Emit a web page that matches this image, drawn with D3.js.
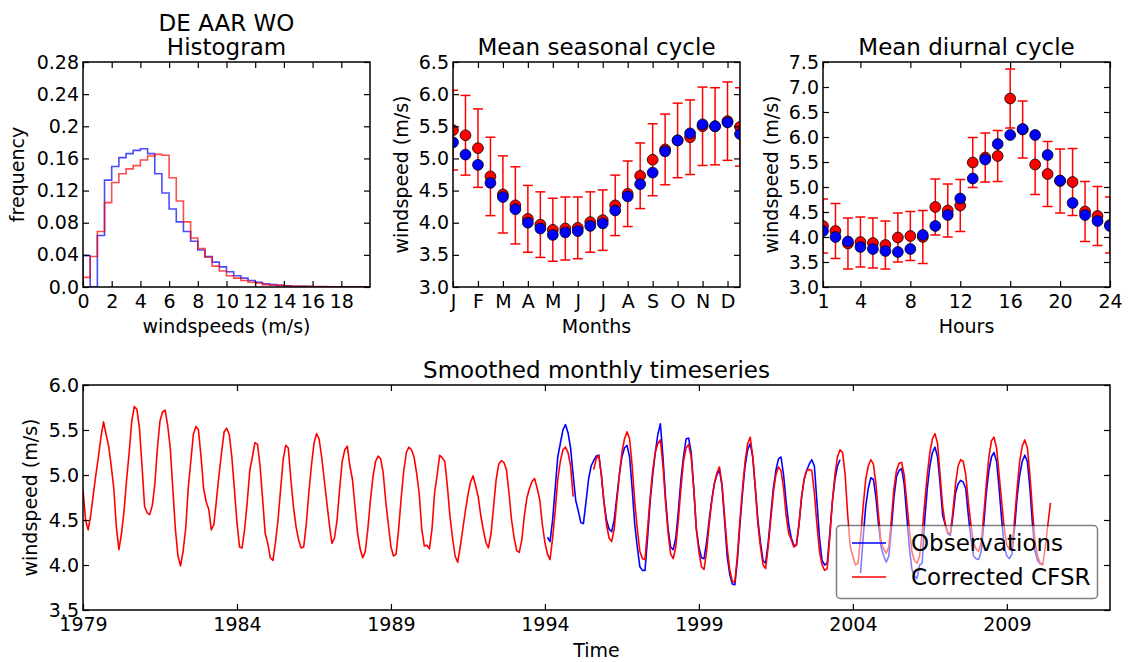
<!DOCTYPE html>
<html>
<head>
<meta charset="utf-8">
<script src="https://cdn.jsdelivr.net/npm/d3@7"></script>
<style>
body { margin: 0; background: #fff; }
text { font-family: "DejaVu Sans", sans-serif; fill: #000; }
</style>
</head>
<body>
<svg id="fig" width="1129" height="662"></svg>
<script>
// ---- histogram (bins of 0.5 m/s from 0 to 20) ----
var histBinWidth = 0.5;
var histObs = [0.039, 0, 0.064, 0.133, 0.150, 0.161, 0.166, 0.170, 0.172, 0.166,
               0.141, 0.117, 0.097, 0.081, 0.069, 0.057, 0.046, 0.038, 0.031, 0.025,
               0.019, 0.014, 0.011, 0.008, 0.006, 0.004, 0.003, 0.002, 0.0015, 0.001,
               0.0008, 0.0005, 0.0004, 0.0003, 0.0002, 0.0002, 0.0001, 0.0001, 0.0001, 0];
var histCfsr = [0.012, 0.038, 0.069, 0.105, 0.130, 0.141, 0.147, 0.151, 0.158, 0.163,
                0.165, 0.164, 0.136, 0.107, 0.081, 0.061, 0.048, 0.037, 0.026, 0.020,
                0.014, 0.011, 0.008, 0.006, 0.005, 0.003, 0.0025, 0.002, 0.0015, 0.001,
                0.001, 0.0008, 0.0006, 0.0005, 0.0004, 0.0003, 0.0002, 0.0002, 0.0001, 0.0001];
var histXTicks = [0, 2, 4, 6, 8, 10, 12, 14, 16, 18];
var histYTicks = [0, 0.04, 0.08, 0.12, 0.16, 0.2, 0.24, 0.28];
var histYLabels = ["0.0", "0.04", "0.08", "0.12", "0.16", "0.2", "0.24", "0.28"];

// ---- mean seasonal cycle (two values per month) ----
var monthLabels = ["J", "F", "M", "A", "M", "J", "J", "A", "S", "O", "N", "D"];
var seasCfsr = [5.44, 5.36, 5.16, 4.72, 4.44, 4.27, 4.06, 3.97, 3.89, 3.91, 3.92, 4.01,
                4.04, 4.27, 4.45, 4.73, 4.98, 5.14, 5.28, 5.33, 5.50, 5.50, 5.58, 5.49];
var seasObs  = [5.25, 5.06, 4.90, 4.62, 4.40, 4.21, 4.00, 3.91, 3.81, 3.85, 3.87, 3.95,
                3.99, 4.19, 4.41, 4.60, 4.78, 5.11, 5.28, 5.39, 5.53, 5.50, 5.56, 5.38];
var seasErr  = [0.62, 0.62, 0.61, 0.61, 0.60, 0.60, 0.52, 0.51, 0.49, 0.49, 0.48, 0.47,
                0.47, 0.47, 0.51, 0.51, 0.56, 0.55, 0.58, 0.58, 0.61, 0.60, 0.61, 0.61];

// ---- mean diurnal cycle (hours 1..24) ----
var hourTicks = [1, 4, 8, 12, 16, 20, 24];
var diurCfsr = [4.22, 4.12, 3.87, 3.90, 3.88, 3.84, 3.99, 4.02, 4.00, 4.60, 4.53, 4.63,
                5.49, 5.59, 5.62, 6.77, 6.15, 5.45, 5.26, 5.12, 5.10, 4.51, 4.42, 4.24];
var diurObs  = [4.12, 4.00, 3.91, 3.80, 3.76, 3.72, 3.70, 3.76, 4.04, 4.22, 4.44, 4.77,
                5.17, 5.55, 5.86, 6.04, 6.16, 6.04, 5.64, 5.13, 4.68, 4.44, 4.32, 4.22];
var diurErr  = [0.54, 0.55, 0.51, 0.50, 0.50, 0.48, 0.49, 0.49, 0.53, 0.56, 0.53, 0.52,
                0.50, 0.49, 0.51, 0.59, 0.57, 0.60, 0.65, 0.64, 0.67, 0.60, 0.59, 0.56];

// ---- smoothed monthly timeseries ----
var cfsrStart = 1979;
var cfsrMonthly = [
  4.84, 4.50, 4.39, 4.55, 4.78, 5.00, 5.20, 5.42, 5.59, 5.45, 5.32, 5.10,   // 1979
  4.85, 4.42, 4.17, 4.35, 4.60, 4.95, 5.25, 5.60, 5.76, 5.73, 5.52, 5.10,   // 1980
  4.65, 4.58, 4.56, 4.66, 4.90, 5.30, 5.60, 5.70, 5.72, 5.55, 5.30, 4.85,   // 1981
  4.40, 4.10, 3.99, 4.15, 4.40, 4.85, 5.15, 5.45, 5.54, 5.50, 5.20, 4.85,   // 1982
  4.70, 4.62, 4.39, 4.45, 4.72, 5.00, 5.25, 5.48, 5.52, 5.45, 5.20, 4.84,   // 1983
  4.47, 4.20, 4.19, 4.40, 4.70, 5.05, 5.20, 5.36, 5.34, 5.10, 4.73, 4.35,   // 1984
  4.24, 4.08, 4.05, 4.25, 4.50, 4.84, 5.17, 5.33, 5.30, 4.95, 4.65, 4.43,   // 1985
  4.28, 4.19, 4.20, 4.45, 4.80, 5.10, 5.35, 5.46, 5.40, 5.20, 4.95, 4.70,   // 1986
  4.45, 4.24, 4.30, 4.50, 4.84, 5.15, 5.28, 5.32, 5.10, 4.95, 4.65, 4.35,   // 1987
  4.18, 4.08, 4.15, 4.40, 4.72, 4.98, 5.15, 5.21, 5.18, 5.02, 4.70, 4.45,   // 1988
  4.20, 4.10, 4.12, 4.40, 4.75, 5.05, 5.25, 5.31, 5.28, 5.20, 5.02, 4.80,   // 1989
  4.40, 4.21, 4.22, 4.18, 4.40, 4.80, 5.00, 5.22, 5.19, 5.15, 4.87, 4.54,   // 1990
  4.30, 4.10, 4.03, 4.20, 4.40, 4.60, 4.78, 4.92, 4.99, 4.88, 4.76, 4.55,   // 1991
  4.39, 4.25, 4.19, 4.35, 4.65, 4.95, 5.12, 5.16, 5.14, 5.06, 4.80, 4.50,   // 1992
  4.30, 4.16, 4.14, 4.28, 4.55, 4.75, 4.85, 4.93, 4.96, 4.85, 4.72, 4.45,   // 1993
  4.25, 4.12, 4.06, 4.30, 4.60, 4.95, 5.15, 5.28, 5.31, 5.25, 5.10, 4.76,   // 1994
  null, null, null, null, null, null, null, 5.06, 5.18, 5.22, 5.00, 4.70,   // 1995
  4.45, 4.30, 4.26, 4.40, 4.70, 5.00, 5.25, 5.40, 5.48, 5.40, 5.10, 4.70,   // 1996
  4.40, 4.15, 4.07, 4.06, 4.40, 4.75, 5.05, 5.25, 5.35, 5.39, 5.10, 4.70,   // 1997
  4.35, 4.12, 4.07, 4.20, 4.50, 4.85, 5.15, 5.30, 5.34, 5.20, 4.85, 4.40,   // 1998
  4.15, 3.98, 3.95, 4.15, 4.45, 4.70, 4.90, 5.02, 5.09, 4.90, 4.55, 4.20,   // 1999
  3.95, 3.82, 3.81, 4.10, 4.50, 4.85, 5.15, 5.35, 5.42, 5.20, 4.85, 4.45,   // 2000
  4.20, 4.00, 3.96, 4.20, 4.50, 4.80, 5.00, 5.09, 5.05, 4.85, 4.55, 4.35,   // 2001
  4.28, 4.20, 4.22, 4.45, 4.75, 4.95, 5.05, 5.06, 5.05, 4.80, 4.45, 4.15,   // 2002
  4.00, 3.94, 3.96, 4.30, 4.70, 5.00, 5.20, 5.28, 5.25, 5.00, 4.55, 4.20,   // 2003
  4.10, 4.00, 4.02, 4.30, 4.65, 4.95, 5.10, 5.17, 5.12, 4.90, 4.55, 4.25,   // 2004
  4.18, 4.13, 4.20, 4.50, 4.85, 5.05, 5.13, 5.14, 5.00, 4.70, 4.40, 4.15,   // 2005
  4.05, 4.02, 4.10, 4.35, 4.70, 5.00, 5.25, 5.40, 5.46, 5.35, 5.00, 4.65,   // 2006
  4.45, 4.36, 4.35, 4.60, 4.90, 5.10, 5.17, 5.15, 5.00, 4.70, 4.45, 4.25,   // 2007
  4.18, 4.15, 4.25, 4.55, 4.90, 5.20, 5.38, 5.42, 5.30, 5.00, 4.70, 4.40,   // 2008
  4.22, 4.17, 4.20, 4.50, 4.85, 5.15, 5.32, 5.39, 5.30, 5.00, 4.60, 4.25,   // 2009
  4.10, 4.02, 4.00, 4.20, 4.45, 4.69                                        // 2010
];
var obsStart = 1994;
var obsMonthly = [
  null, 4.31, 4.26, 4.50, 4.85, 5.20, 5.35, 5.50, 5.56, 5.47, 5.30, 5.00,   // 1994
  4.72, 4.60, 4.47, 4.46, 4.70, 4.95, 5.10, 5.16, 5.21, 5.22, 5.00, 4.70,   // 1995
  4.50, 4.40, 4.37, 4.50, 4.75, 5.00, 5.20, 5.30, 5.33, 5.20, 4.85, 4.45,   // 1996
  4.20, 3.98, 3.94, 3.94, 4.30, 4.70, 5.00, 5.25, 5.45, 5.57, 5.20, 4.75,   // 1997
  4.40, 4.20, 4.17, 4.30, 4.60, 4.95, 5.20, 5.40, 5.41, 5.25, 4.85, 4.40,   // 1998
  4.20, 4.08, 4.07, 4.25, 4.50, 4.72, 4.90, 5.00, 5.06, 4.88, 4.50, 4.10,   // 1999
  3.90, 3.79, 3.78, 4.05, 4.45, 4.80, 5.10, 5.28, 5.35, 5.20, 4.85, 4.50,   // 2000
  4.25, 4.05, 4.02, 4.25, 4.55, 4.85, 5.05, 5.18, 5.20, 5.00, 4.70, 4.45,   // 2001
  4.30, 4.22, 4.22, 4.45, 4.75, 4.95, 5.05, 5.12, 5.17, 5.10, 4.70, 4.30,   // 2002
  4.05, 4.00, 4.02, 4.35, 4.70, 4.95, 5.10, 5.17, null, null, null, null,   // 2003
  null, null, null, 3.91, 4.30, 4.65, 4.85, 4.97, 4.95, 4.75, 4.45, 4.20,   // 2004
  4.10, 4.03, 4.10, 4.40, 4.75, 4.98, 5.05, 5.07, 4.90, 4.55, 4.20, 3.95,   // 2005
  3.88, 3.85, 4.00, 4.02, 4.50, 4.85, 5.10, 5.25, 5.31, 5.20, 4.90, 4.55,   // 2006
  4.45, 4.35, 4.33, 4.55, 4.80, 4.90, 4.94, 4.92, 4.85, 4.55, 4.30, 4.10,   // 2007
  4.07, 4.06, 4.15, 4.45, 4.80, 5.05, 5.20, 5.25, 5.15, 4.85, 4.50, 4.20,   // 2008
  4.10, 4.07, 4.12, 4.40, 4.75, 5.00, 5.15, 5.22, 5.15, 4.85, 4.45, 4.15,   // 2009
  4.05, 4.01, 4.02                                                          // 2010
];
var yearTicks = [1979, 1984, 1989, 1994, 1999, 2004, 2009];
var tsYTicks = [3.5, 4.0, 4.5, 5.0, 5.5, 6.0];

var obsColor = "#0000ff", cfsrColor = "#ff0000";
var tickFont = 19, titleFont = 23;

var svg = d3.select("#fig");

function makeAxes(id, box, x, y, xTicks, xFmt, yTicks, yFmt) {
  var g = svg.append("g");
  svg.append("clipPath").attr("id", id).append("rect")
    .attr("x", box.x0).attr("y", box.y0)
    .attr("width", box.x1 - box.x0).attr("height", box.y1 - box.y0);
  var plot = g.append("g").attr("clip-path", "url(#" + id + ")");
  var ax = g.append("g");
  var none = function() { return ""; };
  ax.append("g").attr("transform", "translate(0," + box.y1 + ")")
    .call(d3.axisBottom(x).tickValues(xTicks).tickFormat(xFmt).tickSizeInner(-6).tickSizeOuter(0).tickPadding(8));
  ax.append("g").attr("transform", "translate(0," + box.y0 + ")")
    .call(d3.axisTop(x).tickValues(xTicks).tickFormat(none).tickSizeInner(-6).tickSizeOuter(0));
  ax.append("g").attr("transform", "translate(" + box.x0 + ",0)")
    .call(d3.axisLeft(y).tickValues(yTicks).tickFormat(yFmt).tickSizeInner(-6).tickSizeOuter(0).tickPadding(4));
  ax.append("g").attr("transform", "translate(" + box.x1 + ",0)")
    .call(d3.axisRight(y).tickValues(yTicks).tickFormat(none).tickSizeInner(-6).tickSizeOuter(0));
  ax.selectAll("g").attr("font-family", "DejaVu Sans").attr("font-size", tickFont);
  ax.selectAll(".domain").remove();
  ax.selectAll(".tick line").attr("stroke", "#000").attr("stroke-width", 1.2);
  ax.append("rect")
    .attr("x", box.x0).attr("y", box.y0)
    .attr("width", box.x1 - box.x0).attr("height", box.y1 - box.y0)
    .attr("fill", "none").attr("stroke", "#000").attr("stroke-width", 1.5);
  return { g: g, plot: plot };
}

function label(txt, x, y, size, rotate) {
  var t = svg.append("text").attr("text-anchor", "middle").attr("font-size", size).text(txt);
  if (rotate) t.attr("transform", "translate(" + x + "," + y + ") rotate(-90)");
  else t.attr("x", x).attr("y", y);
  return t;
}

// ================= histogram =================
var hb = { x0: 83, x1: 370, y0: 62, y1: 287 };
var hx = d3.scaleLinear().domain([0, 20]).range([hb.x0, hb.x1]);
var hy = d3.scaleLinear().domain([0, 0.28]).range([hb.y1, hb.y0]);
var hAx = makeAxes("clipH", hb, hx, hy, histXTicks, d3.format("d"), histYTicks,
                   function(d, i) { return histYLabels[i]; });

function stepPoints(vals) {
  var pts = [[0, 0]];
  vals.forEach(function(v, i) {
    pts.push([i * histBinWidth, v]);
    pts.push([(i + 1) * histBinWidth, v]);
  });
  pts.push([vals.length * histBinWidth, 0]);
  return pts;
}
var stepLine = d3.line().x(function(d) { return hx(d[0]); }).y(function(d) { return hy(d[1]); });
[[histObs, obsColor], [histCfsr, cfsrColor]].forEach(function(s) {
  hAx.plot.append("path").attr("d", stepLine(stepPoints(s[0])))
    .attr("fill", "none").attr("stroke", s[1]).attr("stroke-opacity", 0.7).attr("stroke-width", 1.6);
});
label("DE AAR WO", (hb.x0 + hb.x1) / 2, 31, titleFont);
label("Histogram", (hb.x0 + hb.x1) / 2, 55, titleFont);
label("windspeeds (m/s)", (hb.x0 + hb.x1) / 2, 333, tickFont);
label("frequency", 23.5, (hb.y0 + hb.y1) / 2, tickFont, true);

// ============ points with error bars ============
function errorPlot(plot, x, y, xs, cfsr, obs, err) {
  var d = xs.map(function(xv, i) { return { x: xv, c: cfsr[i], o: obs[i], e: err[i] }; });
  var eb = plot.append("g").attr("stroke", cfsrColor).attr("stroke-width", 1.5);
  eb.selectAll("line.v").data(d).enter().append("line")
    .attr("x1", function(p) { return x(p.x); }).attr("x2", function(p) { return x(p.x); })
    .attr("y1", function(p) { return y(p.c - p.e); }).attr("y2", function(p) { return y(p.c + p.e); });
  [-1, 1].forEach(function(sg) {
    eb.selectAll("line.c" + sg).data(d).enter().append("line")
      .attr("x1", function(p) { return x(p.x) - 5; }).attr("x2", function(p) { return x(p.x) + 5; })
      .attr("y1", function(p) { return y(p.c + sg * p.e); }).attr("y2", function(p) { return y(p.c + sg * p.e); });
  });
  plot.append("g").selectAll("circle").data(d).enter().append("circle")
    .attr("cx", function(p) { return x(p.x); }).attr("cy", function(p) { return y(p.c); })
    .attr("r", 5.4).attr("fill", cfsrColor).attr("stroke", "#000").attr("stroke-width", 0.8);
  plot.append("g").selectAll("circle").data(d).enter().append("circle")
    .attr("cx", function(p) { return x(p.x); }).attr("cy", function(p) { return y(p.o); })
    .attr("r", 5.4).attr("fill", obsColor).attr("stroke", "#000").attr("stroke-width", 0.8);
}

// ================= seasonal =================
var sb = { x0: 453, x1: 740, y0: 62, y1: 287 };
var sx = d3.scaleLinear().domain([0, 11.5]).range([sb.x0, sb.x1]);
var sy = d3.scaleLinear().domain([3.0, 6.5]).range([sb.y1, sb.y0]);
var sAx = makeAxes("clipS", sb, sx, sy, d3.range(12), function(d, i) { return monthLabels[i]; },
                   [3.0, 3.5, 4.0, 4.5, 5.0, 5.5, 6.0, 6.5], d3.format(".1f"));
errorPlot(sAx.plot, sx, sy, seasCfsr.map(function(v, i) { return i / 2; }), seasCfsr, seasObs, seasErr);
label("Mean seasonal cycle", (sb.x0 + sb.x1) / 2, 55, titleFont);
label("Months", (sb.x0 + sb.x1) / 2, 333, tickFont);
label("windspeed (m/s)", 407.5, (sb.y0 + sb.y1) / 2, tickFont, true);

// ================= diurnal =================
var db = { x0: 823, x1: 1110, y0: 62, y1: 287 };
var dx = d3.scaleLinear().domain([1, 24]).range([db.x0, db.x1]);
var dy = d3.scaleLinear().domain([3.0, 7.5]).range([db.y1, db.y0]);
var dAx = makeAxes("clipD", db, dx, dy, hourTicks, d3.format("d"),
                   [3.0, 3.5, 4.0, 4.5, 5.0, 5.5, 6.0, 6.5, 7.0, 7.5], d3.format(".1f"));
errorPlot(dAx.plot, dx, dy, diurCfsr.map(function(v, i) { return i + 1; }), diurCfsr, diurObs, diurErr);
label("Mean diurnal cycle", (db.x0 + db.x1) / 2, 55, titleFont);
label("Hours", (db.x0 + db.x1) / 2, 333, tickFont);
label("windspeed (m/s)", 777.5, (db.y0 + db.y1) / 2, tickFont, true);

// ================= timeseries =================
var tb = { x0: 83, x1: 1110, y0: 385, y1: 610 };
var tx = d3.scaleLinear().domain([1979, 2012.35]).range([tb.x0, tb.x1]);
var ty = d3.scaleLinear().domain([3.5, 6.0]).range([tb.y1, tb.y0]);
var tAx = makeAxes("clipT", tb, tx, ty, yearTicks, d3.format("d"), tsYTicks, d3.format(".1f"));

function monthly(start, vals) {
  return vals.map(function(v, i) { return { t: start + i / 12, v: v }; });
}
var tsLine = d3.line()
  .defined(function(d) { return d.v != null; })
  .x(function(d) { return tx(d.t); })
  .y(function(d) { return ty(d.v); });
tAx.plot.append("path").attr("d", tsLine(monthly(obsStart, obsMonthly)))
  .attr("fill", "none").attr("stroke", obsColor).attr("stroke-width", 1.6).attr("stroke-linejoin", "round");
tAx.plot.append("path").attr("d", tsLine(monthly(cfsrStart, cfsrMonthly)))
  .attr("fill", "none").attr("stroke", cfsrColor).attr("stroke-width", 1.6).attr("stroke-linejoin", "round");

label("Smoothed monthly timeseries", (tb.x0 + tb.x1) / 2, 378, titleFont);
label("Time", (tb.x0 + tb.x1) / 2, 657, tickFont);
label("windspeed (m/s)", 37, (tb.y0 + tb.y1) / 2, tickFont, true);

// legend
var leg = tAx.g.append("g");
leg.append("rect").attr("x", 836.5).attr("y", 525.5).attr("width", 261).attr("height", 73).attr("rx", 4)
  .attr("fill", "#fff").attr("fill-opacity", 0.5)
  .attr("stroke", "#000").attr("stroke-opacity", 0.5).attr("stroke-width", 1.5);
[["Observations", obsColor, 543], ["Corrected CFSR", cfsrColor, 577]].forEach(function(e) {
  leg.append("line").attr("x1", 852).attr("x2", 886).attr("y1", e[2]).attr("y2", e[2])
    .attr("stroke", e[1]).attr("stroke-width", 1.6);
  leg.append("text").attr("x", 911).attr("y", e[2] + 8.3).attr("font-size", titleFont).text(e[0]);
});
</script>
</body>
</html>
